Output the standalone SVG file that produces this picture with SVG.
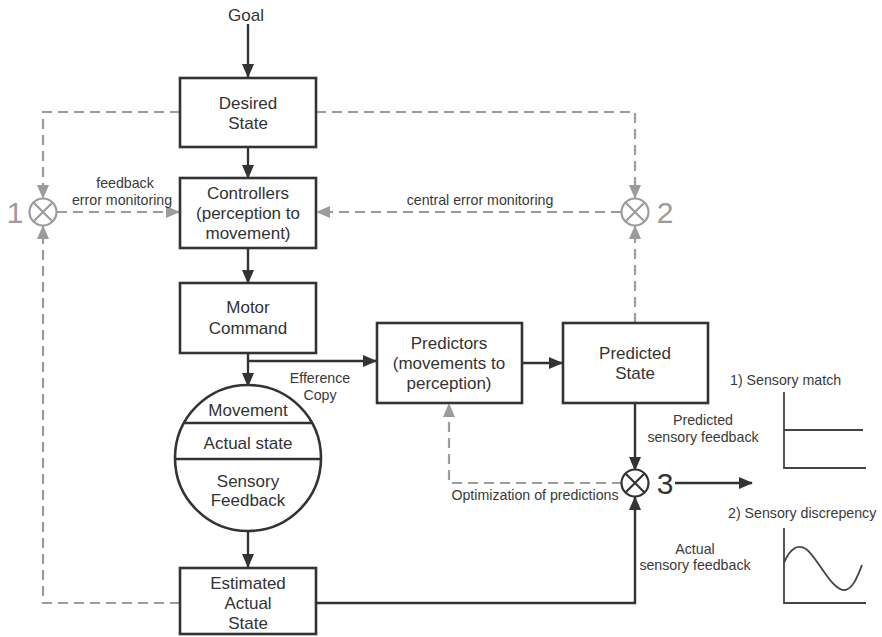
<svg xmlns="http://www.w3.org/2000/svg" width="882" height="637" viewBox="0 0 882 637">
  <style>
    .box { fill: #fff; stroke: #333; stroke-width: 2.6; }
    .lbl { font-family: "Liberation Sans", Arial, sans-serif; font-size: 17px; fill: #333; text-anchor: middle; }
    .sm { font-family: "Liberation Sans", Arial, sans-serif; font-size: 14.2px; fill: #3a3a3a; text-anchor: middle; }
    .num { font-family: "Liberation Sans", Arial, sans-serif; font-size: 30px; text-anchor: middle; }
    .solid { fill: none; stroke: #333; stroke-width: 2.4; }
    .dash { fill: none; stroke: #9c9c9c; stroke-width: 2.2; stroke-dasharray: 10 6; }
    .sum { fill: #fff; stroke-width: 2.2; }
    .axis { fill: none; stroke: #444; stroke-width: 1.8; }
  </style>
  <defs>
    <marker id="ah" markerUnits="userSpaceOnUse" markerWidth="14" markerHeight="12" refX="13" refY="6" orient="auto">
      <path d="M0,0 L14,6 L0,12 Z" fill="#333"/>
    </marker>
    <marker id="ahg" markerUnits="userSpaceOnUse" markerWidth="14" markerHeight="12" refX="13" refY="6" orient="auto">
      <path d="M0,0 L14,6 L0,12 Z" fill="#9c9c9c"/>
    </marker>
  </defs>
  <rect width="882" height="637" fill="#fff"/>

  <!-- connectors -->
  <g id="connectors">
    <!-- solid flow -->
    <line class="solid" x1="248" y1="24" x2="248" y2="77" marker-end="url(#ah)"/>
    <line class="solid" x1="248" y1="147" x2="248" y2="178" marker-end="url(#ah)"/>
    <line class="solid" x1="248" y1="248" x2="248" y2="283" marker-end="url(#ah)"/>
    <line class="solid" x1="248" y1="353" x2="248" y2="386" marker-end="url(#ah)"/>
    <path class="solid" d="M248,361 H376" marker-end="url(#ah)"/>
    <line class="solid" x1="522" y1="363" x2="562" y2="363" marker-end="url(#ah)"/>
    <line class="solid" x1="248" y1="531" x2="248" y2="567" marker-end="url(#ah)"/>
    <line class="solid" x1="635" y1="403" x2="635" y2="470" marker-end="url(#ah)"/>
    <path class="solid" d="M316,603 H635 V497" marker-end="url(#ah)"/>
    <line class="solid" x1="675" y1="483" x2="752" y2="483" marker-end="url(#ah)"/>
    <!-- dashed monitoring loops -->
    <path class="dash" d="M180,112 H43 V198" marker-end="url(#ahg)"/>
    <path class="dash" d="M180,603 H43 V226" marker-end="url(#ahg)"/>
    <path class="dash" d="M57,212 H179" marker-end="url(#ahg)"/>
    <path class="dash" d="M316,112 H635 V198" marker-end="url(#ahg)"/>
    <path class="dash" d="M635,323 V226" marker-end="url(#ahg)"/>
    <path class="dash" d="M621,212 H317" marker-end="url(#ahg)"/>
    <path class="dash" d="M622,483 H449 V404" marker-end="url(#ahg)"/>
  </g>

  <!-- connector labels -->
  <g id="labels">
    <text class="lbl" x="246" y="21">Goal</text>
    <text class="sm" x="125" y="188">feedback</text>
    <text class="sm" x="122" y="205">error monitoring</text>
    <text class="sm" x="480" y="205">central error monitoring</text>
    <text class="sm" x="320" y="383">Efference</text>
    <text class="sm" x="320" y="400">Copy</text>
    <text class="sm" x="535" y="500">Optimization of predictions</text>
    <text class="sm" x="703" y="425">Predicted</text>
    <text class="sm" x="703" y="442">sensory feedback</text>
    <text class="sm" x="695" y="554">Actual</text>
    <text class="sm" x="695" y="570">sensory feedback</text>
  </g>

  <g id="desired-state">
    <rect class="box" x="180" y="78" width="136" height="69"/>
    <text class="lbl" x="248" y="109">Desired</text>
    <text class="lbl" x="248" y="129">State</text>
  </g>

  <g id="controllers">
    <rect class="box" x="180" y="178" width="136" height="70"/>
    <text class="lbl" x="248" y="199">Controllers</text>
    <text class="lbl" x="248" y="219">(perception to</text>
    <text class="lbl" x="248" y="239">movement)</text>
  </g>

  <g id="motor-command">
    <rect class="box" x="180" y="283" width="136" height="70"/>
    <text class="lbl" x="248" y="313">Motor</text>
    <text class="lbl" x="248" y="334">Command</text>
  </g>

  <g id="movement">
    <circle cx="248" cy="458" r="73" fill="#fff" stroke="#333" stroke-width="2.6"/>
    <line x1="184" y1="423" x2="312" y2="423" stroke="#333" stroke-width="2.4"/>
    <line x1="175" y1="459" x2="321" y2="459" stroke="#333" stroke-width="2.4"/>
    <text class="lbl" x="248" y="416">Movement</text>
    <text class="lbl" x="248" y="449">Actual state</text>
    <text class="lbl" x="248" y="487">Sensory</text>
    <text class="lbl" x="248" y="506">Feedback</text>
  </g>

  <g id="estimated-actual-state">
    <rect class="box" x="180" y="568" width="136" height="66"/>
    <text class="lbl" x="248" y="589">Estimated</text>
    <text class="lbl" x="248" y="609">Actual</text>
    <text class="lbl" x="248" y="629">State</text>
  </g>

  <g id="predictors">
    <rect class="box" x="377" y="323" width="145" height="80"/>
    <text class="lbl" x="449" y="349">Predictors</text>
    <text class="lbl" x="449" y="369">(movements to</text>
    <text class="lbl" x="449" y="389">perception)</text>
  </g>

  <g id="predicted-state">
    <rect class="box" x="563" y="323" width="145" height="80"/>
    <text class="lbl" x="635" y="359">Predicted</text>
    <text class="lbl" x="635" y="379">State</text>
  </g>

  <!-- comparators -->
  <g id="comparator-1">
    <circle class="sum" cx="43" cy="212" r="13.5" stroke="#9c9c9c"/>
    <path d="M33.5,202.5 L52.5,221.5 M52.5,202.5 L33.5,221.5" stroke="#9c9c9c" stroke-width="2.2"/>
    <text class="num" x="15" y="223" fill="#9c9c9c">1</text>
  </g>
  <g id="comparator-2">
    <circle class="sum" cx="635" cy="212" r="13.5" stroke="#9c9c9c"/>
    <path d="M625.5,202.5 L644.5,221.5 M644.5,202.5 L625.5,221.5" stroke="#9c9c9c" stroke-width="2.2"/>
    <text class="num" x="665" y="223" fill="#9c9c9c">2</text>
  </g>
  <g id="comparator-3">
    <circle class="sum" cx="635" cy="483" r="13.5" stroke="#333"/>
    <path d="M625.5,473.5 L644.5,492.5 M644.5,473.5 L625.5,492.5" stroke="#333" stroke-width="2.2"/>
    <text class="num" x="665" y="494" fill="#333">3</text>
  </g>

  <!-- outcome plots -->
  <g id="sensory-match">
    <text class="sm" x="730" y="385" style="text-anchor:start">1) Sensory match</text>
    <path class="axis" d="M784,392 V468 H866"/>
    <line class="axis" x1="784" y1="430" x2="863" y2="430"/>
  </g>
  <g id="sensory-discrepancy">
    <text class="sm" x="728" y="518" style="text-anchor:start">2) Sensory discrepency</text>
    <path class="axis" d="M784,528 V603 H866"/>
    <path class="axis" d="M784,563 C790,548 798,544 806,549 C816,555 832,592 845,590 C853,589 858,575 862,565"/>
  </g>
</svg>
